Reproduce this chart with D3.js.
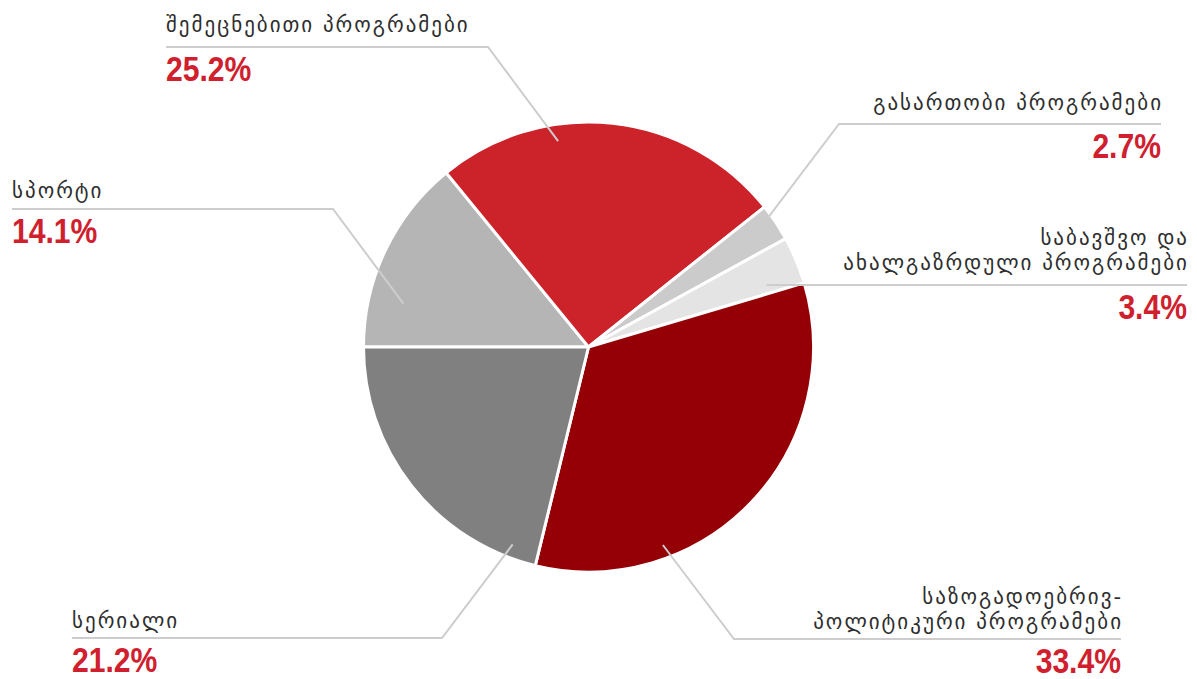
<html>
<head>
<meta charset="utf-8">
<script src="https://d3js.org/d3.v7.min.js"></script>
<style>
  body { margin: 0; background: #fff; }
  .name { font-family: "DejaVu Sans", sans-serif; font-size: 21px; letter-spacing: 2px; fill: #2e2e2e; }
  .pct { font-family: "Liberation Sans Narrow", "Liberation Sans", sans-serif; font-weight: bold; font-size: 35px; fill: #d0202e; }
</style>
</head>
<body>
<svg width="1197" height="679"></svg>
<script>
// data, clockwise from 9 o'clock
const categories = ["სპორტი", "შემეცნებითი პროგრამები", "გასართობი პროგრამები",
                    "საბავშვო და\nახალგაზრდული პროგრამები", "საზოგადოებრივ-\nპოლიტიკური პროგრამები", "სერიალი"];
const values = [14.1, 25.2, 2.7, 3.4, 33.4, 21.2];
const colors = ["#b5b5b5", "#cc2229", "#cbcbcb", "#e4e4e4", "#940006", "#808080"];

// leader line layout: t = position inside slice span, rf = radius fraction of anchor,
// elbow (ex,ey), x2 = end of horizontal rule, gap = name baseline above rule
const leaders = [
  {t: 0.26, rf: 0.845, ex: 333, ey: 209, x2: 12,   side: "start", gap: 11},
  {t: 0.34, rf: 0.925, ex: 488, ey: 47,  x2: 166,  side: "start", gap: 15},
  {t: 0.29, rf: 0.98,  ex: 839, ey: 124, x2: 1161, side: "end",   gap: 14},
  {t: 0.78, rf: 0.84,  ex: 767, ey: 285, x2: 1187, side: "end",   gap: 15},
  {t: 0.715, rf: 0.94, ex: 734, ey: 639, x2: 1121, side: "end",   gap: 10},
  {t: 0.096, rf: 0.94, ex: 442, ey: 638, x2: 72,   side: "start", gap: 10}
];

const cx = 588.5, cy = 347, R = 225;
const svg = d3.select("svg");

const pie = d3.pie().sort(null).value(d => d)
  .startAngle(-Math.PI / 2).endAngle(3 * Math.PI / 2);
const arcs = pie(values);
const arc = d3.arc().innerRadius(0).outerRadius(R);

const g = svg.append("g").attr("transform", `translate(${cx},${cy})`);
g.selectAll("path").data(arcs).enter().append("path")
  .attr("d", arc)
  .attr("fill", (d, i) => colors[i])
  .attr("stroke", "#fff").attr("stroke-width", 3).attr("stroke-linejoin", "round");

// leader lines + labels
arcs.forEach(function(a, i) {
  const L = leaders[i];
  const ang = a.startAngle + L.t * (a.endAngle - a.startAngle);
  const ax = cx + Math.sin(ang) * R * L.rf;
  const ay = cy - Math.cos(ang) * R * L.rf;

  svg.append("path")
    .attr("d", d3.line()([[ax, ay], [L.ex, L.ey], [L.x2, L.ey]]))
    .attr("fill", "none").attr("stroke", "#cdcdcd").attr("stroke-width", 2);

  const lines = categories[i].split("\n");
  const tx = L.x2;
  lines.forEach(function(s, k) {
    svg.append("text").attr("class", "name")
      .attr("x", L.side == "end" ? tx + 2 : tx)
      .attr("y", L.ey - L.gap - (lines.length - 1 - k) * 25)
      .attr("text-anchor", L.side)
      .text(s);
  });
  svg.append("text").attr("class", "pct")
    .attr("x", tx).attr("y", L.ey + 34)
    .attr("text-anchor", L.side)
    .text(values[i].toFixed(1) + "%")
    .each(function() {
      // squeeze to a condensed look
      const w = this.getComputedTextLength();
      d3.select(this).attr("textLength", w * 0.86).attr("lengthAdjust", "spacingAndGlyphs");
    });
});
</script>
</body>
</html>
